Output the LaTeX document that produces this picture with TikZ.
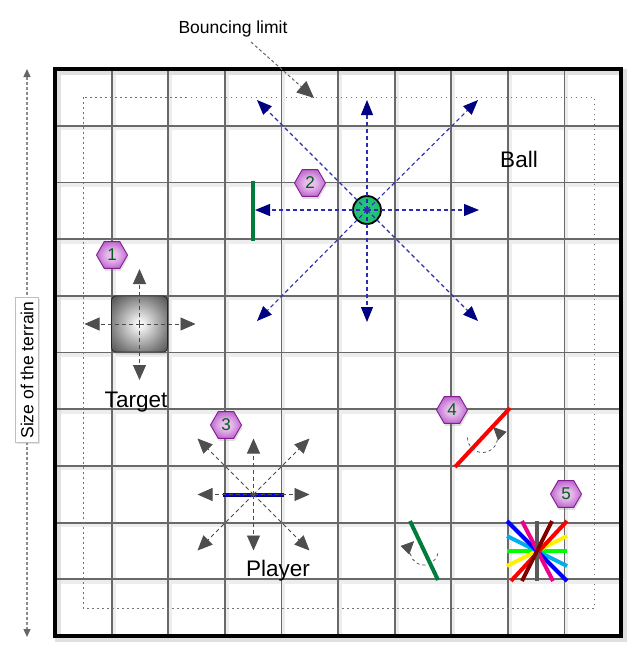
\documentclass[tikz,border=0pt]{standalone}
\usepackage{fontspec}
\setmainfont{Liberation Sans}
\usetikzlibrary{arrows.meta,shapes.geometric,calc,shadows}
\definecolor{gridc}{RGB}{105,105,105}
\definecolor{navyc}{RGB}{0,0,130}
\definecolor{dashblue}{RGB}{45,45,175}
\definecolor{arrgray}{RGB}{78,78,78}
\definecolor{hexborder}{RGB}{130,30,145}
\definecolor{hexin}{RGB}{238,200,242}
\definecolor{hexout}{RGB}{172,72,192}
\definecolor{digitc}{RGB}{0,95,20}
\definecolor{wallgreen}{RGB}{0,125,60}
\definecolor{ballin}{RGB}{40,205,125}
\definecolor{ballout}{RGB}{0,100,48}
\pgfdeclareradialshading{hexshade}{\pgfpoint{0bp}{0bp}}{color(0bp)=(hexin); color(10bp)=(hexin!85!hexout); color(32bp)=(hexout); color(50bp)=(hexout!85!black)}
\pgfdeclareradialshading{targetshade}{\pgfpoint{0bp}{0bp}}{color(0bp)=(white); color(5bp)=(white!92!black); color(25bp)=(black!50); color(44bp)=(black!85); color(50bp)=(black!92)}
\pgfdeclareradialshading{ballshade}{\pgfpoint{0bp}{0bp}}{color(0bp)=(ballin); color(28bp)=(ballin!80!ballout); color(50bp)=(ballout)}
\tikzset{
  gridline/.style={draw=gridc, line width=1.8pt},
  gridshadow/.style={draw=black!7, line width=4pt},
  hexnode/.style={regular polygon, regular polygon sides=6, minimum size=31pt, inner sep=0pt,
    draw=hexborder, line width=0.9pt, shade, shading=hexshade, text=digitc,
    font=\fontsize{17}{17}\selectfont,
    drop shadow={opacity=0.25, shadow xshift=1pt, shadow yshift=-2.5pt}},
  bluedash/.style={draw=dashblue, line width=1.1pt, dash pattern=on 4pt off 3pt,
    -{Triangle[length=15pt,width=12pt,fill=navyc,color=navyc]}},
  graydash/.style={draw=black!70, line width=0.9pt, dash pattern=on 4pt off 3pt,
    -{Triangle[length=15pt,width=13pt,fill=arrgray,color=arrgray]}},
  rotarc/.style={draw=black!65, line width=0.8pt, dash pattern=on 3pt off 3pt,
    -{Triangle[length=13pt,width=12pt,fill=arrgray,color=arrgray]}},
  label/.style={font=\fontsize{22.5}{22.5}\selectfont, inner sep=0pt},
  barline/.style={line width=4pt}
}
\begin{document}
\begin{tikzpicture}[x=1pt,y=-1pt]
\useasboundingbox (0,0) rectangle (638,656);
\fill[white] (0,0) rectangle (638,656);

% grid shadows
\foreach \k in {1,...,9}{
  \draw[gridshadow] ({55+56.6*\k+2},71) -- ({55+56.6*\k+2},638);
  \draw[gridshadow] (57,{69+56.7*\k+2.5}) -- (623,{69+56.7*\k+2.5});
}
\draw[draw=black!12, line width=6pt] (58,72) rectangle (624,639);
% grid
\foreach \k in {1,...,9}{
  \draw[gridline] ({55+56.6*\k},69) -- ({55+56.6*\k},636);
  \draw[gridline] (55,{69+56.7*\k}) -- (621,{69+56.7*\k});
}
% terrain border
\draw[line width=4pt, black] (55,69) rectangle (621,636);
% bouncing limit (dotted)
\draw[draw=black!55, line width=1pt, dash pattern=on 1.5pt off 3.5pt] (83,97) rectangle (594,608);

% size of the terrain
\coordinate (sizetop) at (27,69);
\coordinate (sizebot) at (27,637);
\draw[draw=black!45, line width=1.3pt, dash pattern=on 3pt off 2pt,
  {Triangle[length=8pt,width=7pt,fill=black!60,color=black!60]}-{Triangle[length=8pt,width=7pt,fill=black!60,color=black!60]}]
  (sizetop) -- (sizebot);
\node[rotate=90, fill=white, draw=black!25, inner xsep=4pt, inner ysep=3pt, minimum height=23pt,
  font=\fontsize{17.5}{17.5}\selectfont, drop shadow={opacity=0.2, shadow xshift=1pt, shadow yshift=-1.5pt}]
  (sizelabel) at (27,370) {Size of the terrain};

% bouncing limit label
\node[font=\fontsize{17.5}{17.5}\selectfont, inner sep=1pt] (bounce) at (233,29) {Bouncing limit};
\coordinate (bouncestart) at (251,42);
\coordinate (bouncetip) at (314,98);
\draw[draw=black!60, line width=1pt, dash pattern=on 3pt off 2.5pt,
  -{Triangle[length=17pt,width=15pt,fill=arrgray,color=arrgray]}] (bouncestart) -- (bouncetip);

% ---------- ball ----------
\node[circle, minimum size=28pt, inner sep=0pt, draw=black, line width=1.8pt, shade, shading=ballshade] (ball) at (367,210) {};
\foreach \dx/\dy in {-112/0,112/0,0/-110,0/112,-110/-110,111/-110,-110/111,111/111}{
  \draw[bluedash] (ball.center) -- ++(\dx,\dy);
}
\draw[wallgreen, barline] (253,181) -- (253,241);
\node[label] (balltext) at (519,159) {Ball};

% ---------- target ----------
\node[rectangle, rounded corners=4pt, minimum size=56pt, inner sep=0pt, draw=black!85, line width=0.8pt,
  shade, shading=targetshade, drop shadow={opacity=0.25, shadow xshift=1.5pt, shadow yshift=-2.5pt}] (target) at (139.5,324) {};
\draw[graydash] (target.center) -- ++(-55,0);
\draw[graydash] (target.center) -- ++(56,0);
\draw[graydash] (target.center) -- ++(0,-55);
\draw[graydash] (target.center) -- ++(0,56);
\node[label] (targettext) at (136,402) {Target};

% ---------- player ----------
\coordinate (player) at (253.5,494.5);
\draw[navyc, line width=4pt] (223,494.5) -- (284,494.5);
\draw[blue, line width=2.6pt] (223.7,494.5) -- (283.3,494.5);
\foreach \dx/\dy in {-56/0,56/0,0/-56,0/56,-56/-56,56/-56,-56/56,56/56}{
  \draw[graydash] (player) -- ++(\dx,\dy);
}
\node[label] (playertext) at (278,571) {Player};

% ---------- item 4 : rotating walls ----------
\coordinate (rot1) at (482.5,437.5);
\draw[red, barline] (455,467) -- (510,408);
\draw[rotarc] ($(rot1)+(180:15)$) arc[start angle=180, end angle=-45, radius=15];
\coordinate (rot2) at (424,551);
\draw[wallgreen, barline] (410,521) -- (438,580);
\draw[rotarc] ($(rot2)+(10:14)$) arc[start angle=10, end angle=225, radius=14];

% ---------- item 5 : all walls ----------
\coordinate (star) at (537,551);
\draw[green, barline] (507,551) -- (567,551);
\draw[yellow, barline] (507,566) -- (567,536);
\draw[cyan, barline] (507,536) -- (567,566);
\draw[blue, barline] (507,521) -- (567,581);
\draw[magenta, barline] (522,521) -- (553,581);
\draw[red, barline] (511,581) -- (567,521);
\draw[black!65, barline] (537,521) -- (537,581);
\draw[red!50!black, barline] (522,581) -- (552,521);

% ---------- hexagons ----------
\node[hexnode] (h1) at (112,255) {1};
\node[hexnode] (h2) at (310,183) {2};
\node[hexnode] (h3) at (226,425) {3};
\node[hexnode] (h4) at (452,410) {4};
\node[hexnode] (h5) at (566,494) {5};
\end{tikzpicture}
\end{document}
